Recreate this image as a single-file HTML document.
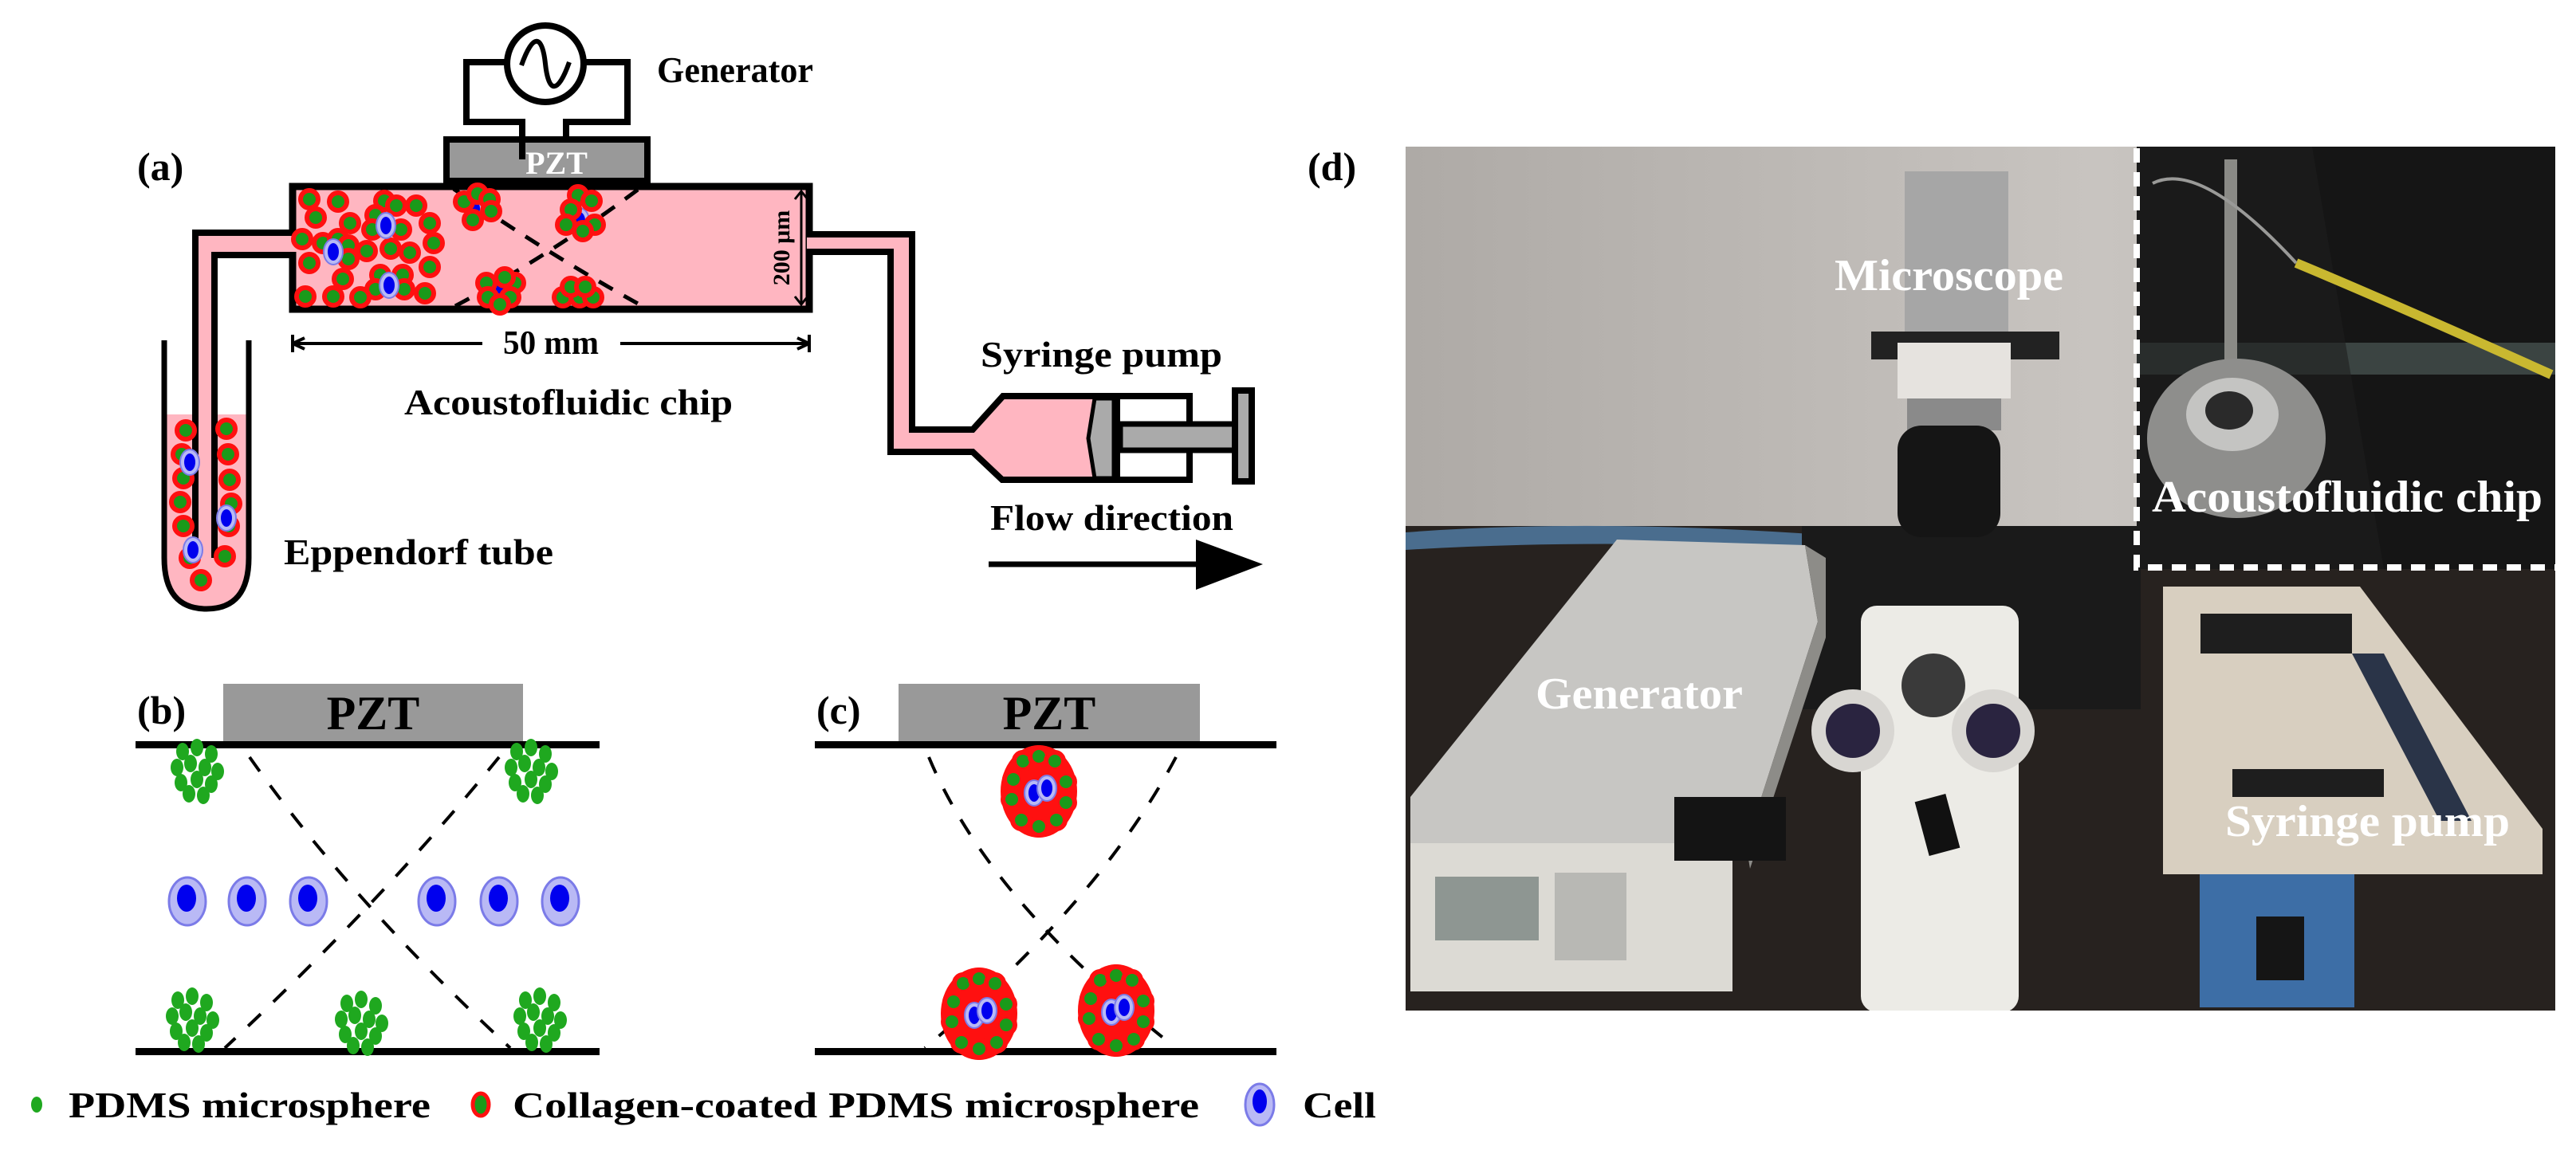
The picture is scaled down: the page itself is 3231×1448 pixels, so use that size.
<!DOCTYPE html>
<html><head><meta charset="utf-8"><style>html,body{margin:0;padding:0;background:#fff}svg{display:block}svg text{font-family:"Liberation Serif",serif;font-weight:bold}</style></head>
<body>
<svg width="3231" height="1448" viewBox="0 0 3231 1448" xmlns="http://www.w3.org/2000/svg">
<defs>
<g id="cp"><circle r="11" fill="#1a9a1a" stroke="#ff1010" stroke-width="6"/></g>
<g id="gp"><ellipse rx="8" ry="11" fill="#1fa81f"/></g>
<g id="cell"><ellipse rx="23" ry="30" fill="#b9b9f5" stroke="#7b7be8" stroke-width="3"/><ellipse cx="-1" cy="-4" rx="12" ry="17" fill="#0000ee"/></g>
<g id="scell"><ellipse rx="12" ry="16" fill="#b9b9f5" stroke="#7b7be8" stroke-width="2"/><ellipse rx="7" ry="11" fill="#0000ee"/></g>
<g id="gcl">
<use href="#gp" x="-18" y="-25"/><use href="#gp" x="0" y="-30"/><use href="#gp" x="18" y="-22"/><use href="#gp" x="-25" y="-5"/><use href="#gp" x="-8" y="-10"/><use href="#gp" x="10" y="-5"/><use href="#gp" x="26" y="0"/>
<use href="#gp" x="-20" y="14"/><use href="#gp" x="0" y="10"/><use href="#gp" x="18" y="16"/><use href="#gp" x="-10" y="28"/><use href="#gp" x="8" y="30"/>
</g>
<g id="ccl">
<ellipse cx="0" cy="0" rx="48" ry="58" fill="#ff1010"/>
<use href="#cp" x="-20" y="-38"/><use href="#cp" x="0" y="-44"/><use href="#cp" x="20" y="-38"/><use href="#cp" x="-32" y="-15"/><use href="#cp" x="34" y="-12"/>
<use href="#cp" x="-34" y="10"/><use href="#cp" x="34" y="14"/><use href="#cp" x="-22" y="36"/><use href="#cp" x="0" y="44"/><use href="#cp" x="22" y="36"/>
<use href="#scell" x="-6" y="2"/><use href="#scell" x="10" y="-4"/>
</g>
<linearGradient id="wall" x1="0" y1="0" x2="1" y2="0"><stop offset="0" stop-color="#aeaaa6"/><stop offset="0.6" stop-color="#c8c4c0"/><stop offset="1" stop-color="#bab6b2"/></linearGradient>
<clipPath id="ph"><rect x="1763" y="184" width="1442" height="1084"/></clipPath>
</defs>

<!-- (a) -->
<text x="172" y="226" font-size="50">(a)</text>
<path d="M655,200 V153 H585 V78 H787 V153 H710 V175" fill="none" stroke="#000" stroke-width="8"/>
<circle cx="684" cy="80" r="48" fill="#fff" stroke="#000" stroke-width="8"/>
<path d="M654,82 C668,42 680,42 684,80 C688,118 700,118 714,78" fill="none" stroke="#000" stroke-width="6"/>
<text x="824" y="103" font-size="46" textLength="196" lengthAdjust="spacingAndGlyphs">Generator</text>
<rect x="560" y="175" width="252" height="52" fill="#999" stroke="#000" stroke-width="8"/>
<line x1="655" y1="175" x2="655" y2="200" stroke="#000" stroke-width="8"/>
<text x="698" y="218" font-size="40" fill="#fff" text-anchor="middle">PZT</text>
<path d="M363,292 H241 V700 H271 V322 H363 Z" fill="#ffb6c1"/>
<path d="M208,520 H310 V700 Q310,760 259,762 Q208,760 208,700 Z" fill="#ffb6c1"/>
<path d="M206,427 V700 Q206,764 259,764 Q312,764 312,700 V427" fill="none" stroke="#000" stroke-width="7"/>
<path d="M363,292 H245 V700 M363,320 H269 V700" fill="none" stroke="#000" stroke-width="8"/>
<g>
<use href="#cp" x="233" y="540"/><use href="#cp" x="284" y="538"/><use href="#cp" x="228" y="570"/><use href="#cp" x="286" y="570"/>
<use href="#cp" x="230" y="600"/><use href="#cp" x="288" y="602"/><use href="#cp" x="226" y="630"/><use href="#cp" x="290" y="632"/>
<use href="#cp" x="230" y="660"/><use href="#cp" x="287" y="660"/><use href="#cp" x="238" y="700"/><use href="#cp" x="282" y="698"/><use href="#cp" x="252" y="728"/>
<use href="#scell" x="238" y="580"/><use href="#scell" x="284" y="650"/><use href="#scell" x="242" y="690"/>
</g>
<text x="356" y="708" font-size="46" textLength="338" lengthAdjust="spacingAndGlyphs">Eppendorf tube</text>
<rect x="367" y="234" width="648" height="154" fill="#ffb6c1" stroke="#000" stroke-width="9"/>
<path d="M1019,294 H1144 V539 H1220 L1258,497 H1373 V602 H1257 L1220,567 H1117 V316 H1019 Z" fill="#ffb6c1"/>
<path d="M1019,294 H1144 V539 H1220 L1258,497 H1492 V602 H1257 L1220,567 H1117 V316 H1019" fill="none" stroke="#000" stroke-width="8"/>
<rect x="1012" y="298" width="14" height="14" fill="#ffb6c1"/>
<rect x="356" y="296" width="16" height="20" fill="#ffb6c1"/>
<path d="M1373,500 H1397 V600 H1373 L1365,550 Z" fill="#aaa" stroke="#000" stroke-width="5"/>
<line x1="1401" y1="497" x2="1401" y2="602" stroke="#000" stroke-width="8"/>
<rect x="1405" y="532" width="145" height="33" fill="#aaa" stroke="#000" stroke-width="7"/>
<rect x="1549" y="490" width="21" height="114" fill="#aaa" stroke="#000" stroke-width="8"/>
<text x="1230" y="460" font-size="46" textLength="303" lengthAdjust="spacingAndGlyphs">Syringe pump</text>
<text x="1242" y="665" font-size="46" textLength="305" lengthAdjust="spacingAndGlyphs">Flow direction</text>
<line x1="1240" y1="708" x2="1510" y2="708" stroke="#000" stroke-width="7"/>
<path d="M1500,677 L1584,708 L1500,740 Z" fill="#000"/>
<path d="M367,431 H605 M778,431 H1015" stroke="#000" stroke-width="4"/>
<path d="M367,420 V442 M1015,420 V442 M367,431 L382,424 M367,431 L382,438 M1015,431 L1000,424 M1015,431 L1000,438" stroke="#000" stroke-width="4"/>
<text x="691" y="444" font-size="42" text-anchor="middle" textLength="120" lengthAdjust="spacingAndGlyphs">50 mm</text>
<text x="507" y="520" font-size="46" textLength="412" lengthAdjust="spacingAndGlyphs">Acoustofluidic chip</text>
<path d="M1005,240 V382 M997,250 L1005,240 L1013,250 M997,372 L1005,382 L1013,372" fill="none" stroke="#000" stroke-width="3"/>
<text transform="translate(990,311) rotate(-90)" font-size="30" text-anchor="middle">200 μm</text>
<path d="M569,237 Q690,320 802,382 M800,238 Q690,320 571,384" fill="none" stroke="#000" stroke-width="5" stroke-dasharray="20,16"/>
<g>
<use href="#cp" x="388" y="250"/><use href="#cp" x="424" y="253"/><use href="#cp" x="396" y="273"/><use href="#cp" x="439" y="280"/>
<use href="#cp" x="482" y="252"/><use href="#cp" x="497" y="258"/><use href="#cp" x="522" y="258"/><use href="#cp" x="471" y="270"/>
<use href="#cp" x="467" y="288"/><use href="#cp" x="503" y="288"/><use href="#cp" x="539" y="280"/><use href="#cp" x="379" y="300"/>
<use href="#cp" x="405" y="305"/><use href="#cp" x="424" y="300"/><use href="#cp" x="437" y="308"/><use href="#cp" x="460" y="315"/>
<use href="#cp" x="490" y="312"/><use href="#cp" x="514" y="317"/><use href="#cp" x="544" y="305"/><use href="#cp" x="388" y="330"/>
<use href="#cp" x="437" y="325"/><use href="#cp" x="539" y="335"/><use href="#cp" x="430" y="350"/><use href="#cp" x="477" y="345"/>
<use href="#cp" x="505" y="345"/><use href="#cp" x="471" y="363"/><use href="#cp" x="507" y="363"/><use href="#cp" x="533" y="368"/>
<use href="#cp" x="383" y="372"/><use href="#cp" x="418" y="372"/><use href="#cp" x="452" y="373"/>
<use href="#scell" x="484" y="283"/><use href="#scell" x="418" y="316"/><use href="#scell" x="488" y="358"/>
<use href="#scell" x="595" y="262"/><use href="#cp" x="582" y="253"/><use href="#cp" x="599" y="243"/><use href="#cp" x="614" y="250"/><use href="#cp" x="616" y="265"/><use href="#cp" x="593" y="276"/>
<use href="#scell" x="727" y="277"/><use href="#cp" x="725" y="245"/><use href="#cp" x="742" y="252"/><use href="#cp" x="716" y="263"/><use href="#cp" x="710" y="282"/><use href="#cp" x="746" y="282"/><use href="#cp" x="731" y="290"/>
<use href="#scell" x="628" y="358"/><use href="#cp" x="610" y="355"/><use href="#cp" x="646" y="355"/><use href="#cp" x="612" y="373"/><use href="#cp" x="640" y="373"/><use href="#cp" x="627" y="382"/><use href="#cp" x="633" y="348"/>
<use href="#cp" x="706" y="373"/><use href="#cp" x="727" y="373"/><use href="#cp" x="744" y="373"/><use href="#cp" x="716" y="360"/><use href="#cp" x="734" y="360"/>
</g>

<!-- (b) -->
<text x="172" y="908" font-size="50">(b)</text>
<rect x="280" y="858" width="376" height="74" fill="#999"/>
<text x="468" y="915" font-size="60" text-anchor="middle">PZT</text>
<rect x="170" y="930" width="582" height="9" fill="#000"/>
<rect x="170" y="1315" width="582" height="9" fill="#000"/>
<path d="M313,950 Q440,1130 640,1315 M626,950 Q480,1130 282,1315" fill="none" stroke="#000" stroke-width="4" stroke-dasharray="22,22"/>
<use href="#cell" x="235" y="1131"/><use href="#cell" x="310" y="1131"/><use href="#cell" x="387" y="1131"/>
<use href="#cell" x="548" y="1131"/><use href="#cell" x="626" y="1131"/><use href="#cell" x="703" y="1131"/>
<use href="#gcl" x="247" y="968"/><use href="#gcl" x="666" y="968"/>
<use href="#gcl" x="241" y="1280"/><use href="#gcl" x="453" y="1284"/><use href="#gcl" x="677" y="1280"/>

<!-- (c) -->
<text x="1024" y="908" font-size="50">(c)</text>
<rect x="1127" y="858" width="378" height="74" fill="#999"/>
<text x="1316" y="915" font-size="60" text-anchor="middle">PZT</text>
<rect x="1022" y="930" width="579" height="9" fill="#000"/>
<rect x="1022" y="1315" width="579" height="9" fill="#000"/>
<path d="M1165,950 Q1240,1130 1475,1315 M1475,950 Q1380,1130 1160,1315" fill="none" stroke="#000" stroke-width="4" stroke-dasharray="22,22"/>
<use href="#ccl" x="1303" y="993"/><use href="#ccl" x="1228" y="1272"/><use href="#ccl" x="1400" y="1268"/>

<!-- legend -->
<ellipse cx="46" cy="1386" rx="7" ry="10" fill="#1fa81f"/>
<text x="86" y="1402" font-size="46" textLength="454" lengthAdjust="spacingAndGlyphs">PDMS microsphere</text>
<ellipse cx="603" cy="1386" rx="10" ry="14" fill="#1a9a1a" stroke="#ff1010" stroke-width="5"/>
<text x="643" y="1402" font-size="46" textLength="861" lengthAdjust="spacingAndGlyphs">Collagen-coated PDMS microsphere</text>
<ellipse cx="1580" cy="1386" rx="18" ry="26" fill="#b9b9f5" stroke="#7b7be8" stroke-width="3"/><ellipse cx="1580" cy="1382" rx="9" ry="15" fill="#0000ee"/>
<text x="1634" y="1402" font-size="46" textLength="92" lengthAdjust="spacingAndGlyphs">Cell</text>

<!-- (d) -->
<text x="1640" y="226" font-size="50">(d)</text>
<g clip-path="url(#ph)">
<rect x="1763" y="184" width="1442" height="1084" fill="url(#wall)"/>
<rect x="1763" y="660" width="1442" height="608" fill="#27221f"/>
<path d="M1763,668 Q2000,650 2300,672 L2300,690 Q2000,675 1763,690 Z" fill="#4a6d8e"/>
<rect x="2260" y="660" width="425" height="230" fill="#1a1a1a"/>
<rect x="2389" y="215" width="130" height="210" fill="#a6a6a6"/>
<rect x="2347" y="416" width="236" height="35" fill="#222"/>
<rect x="2380" y="430" width="142" height="70" fill="#e6e3df"/>
<rect x="2392" y="500" width="118" height="40" fill="#8a8a8a"/>
<rect x="2380" y="534" width="129" height="140" rx="30" fill="#151515"/>
<path d="M2028,677 L2264,684 L2280,780 L2190,1060 L1769,1060 L1769,1000 Z" fill="#c7c6c3"/>
<path d="M2264,684 L2290,700 L2290,800 L2195,1090 L2190,1060 L2280,780 Z" fill="#8d8c88"/>
<rect x="1769" y="1058" width="404" height="186" fill="#dcdad4"/>
<rect x="1800" y="1100" width="130" height="80" fill="#8e9692"/>
<rect x="1950" y="1095" width="90" height="110" fill="#b8b8b4"/>
<rect x="2100" y="1000" width="140" height="80" fill="#141414"/>
<rect x="2334" y="760" width="198" height="510" rx="20" fill="#ecebe6"/>
<circle cx="2324" cy="917" r="52" fill="#d8d6d2"/><circle cx="2324" cy="917" r="34" fill="#2a2440"/>
<circle cx="2500" cy="917" r="52" fill="#d8d6d2"/><circle cx="2500" cy="917" r="34" fill="#2a2440"/>
<circle cx="2425" cy="860" r="40" fill="#3a3a3a"/>
<rect x="2410" y="1000" width="40" height="70" fill="#111" transform="rotate(-15 2430 1035)"/>
<path d="M2713,736 L2960,736 L3189,1040 L3189,1097 L2713,1097 Z" fill="#d8cfc0"/>
<path d="M2760,770 H2950 V820 H2760 Z" fill="#1e1e1e"/>
<path d="M2800,965 H2990 V1000 H2800 Z" fill="#1e1e1e"/>
<path d="M2950,820 L2990,820 L3100,1030 L3060,1030 Z" fill="#2a3448"/>
<rect x="2759" y="1097" width="194" height="167" fill="#3d6ea6"/>
<rect x="2830" y="1150" width="60" height="80" fill="#151515"/>
<rect x="2680" y="184" width="530" height="530" fill="#151515"/>
<rect x="2680" y="430" width="530" height="40" fill="#3b4442"/>
<path d="M2680,184 H2900 L2990,714 H2680 Z" fill="#1e1e1e" opacity="0.6"/>
<rect x="2790" y="200" width="16" height="320" fill="#8a8a86"/>
<ellipse cx="2805" cy="550" rx="112" ry="100" fill="#8e8e8c"/>
<ellipse cx="2800" cy="520" rx="58" ry="46" fill="#c4c4c2"/>
<ellipse cx="2796" cy="515" rx="30" ry="24" fill="#2a2a2a"/>
<path d="M2880,330 Q3000,380 3200,470" fill="none" stroke="#c9b830" stroke-width="12"/>
<path d="M2700,230 Q2760,200 2880,330" fill="none" stroke="#9a9a98" stroke-width="4"/>
<path d="M2680,186 V712 H3205" fill="none" stroke="#fff" stroke-width="8" stroke-dasharray="18,12"/>
</g>
<g fill="#fff" font-size="56">
<text x="2301" y="364" textLength="287" lengthAdjust="spacingAndGlyphs">Microscope</text>
<text x="1926" y="889" textLength="260" lengthAdjust="spacingAndGlyphs">Generator</text>
<text x="2791" y="1049" textLength="357" lengthAdjust="spacingAndGlyphs">Syringe pump</text>
<text x="2699" y="642" textLength="490" lengthAdjust="spacingAndGlyphs">Acoustofluidic chip</text>
</g>
</svg>
</body></html>
